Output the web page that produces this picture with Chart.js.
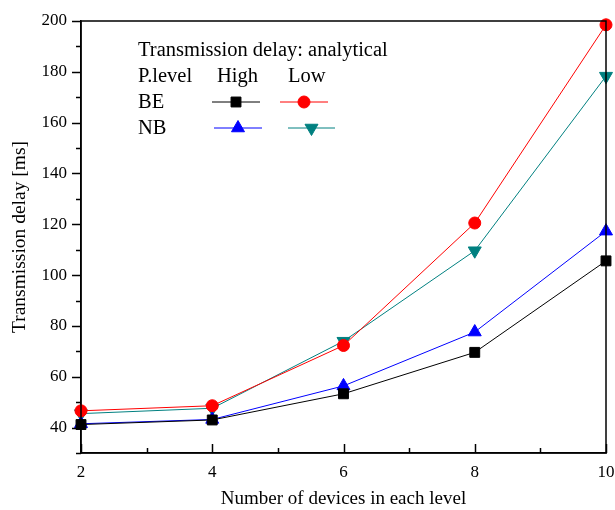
<!DOCTYPE html>
<html><head><meta charset="utf-8">
<script src="https://cdn.jsdelivr.net/npm/chart.js@4"></script>
<style>html,body{margin:0;padding:0;background:#fff}#wrap{width:615px;height:510px}</style>
</head><body><div id="wrap"><canvas id="c" width="615" height="510"></canvas></div>
<script>
const devices = [2, 4, 6, 8, 10];
const beHigh = [41.2, 43.0, 53.3, 69.6, 105.6];
const nbHigh = [41.5, 43.2, 56.4, 77.6, 117.3];
const beLow  = [46.6, 48.6, 72.3, 120.5, 198.5];
const nbLow  = [45.5, 47.6, 74.0, 109.6, 178.3];
const yTickLabels = [40, 60, 80, 100, 120, 140, 160, 180, 200];
const xTickLabels = [2, 4, 6, 8, 10];
const FONT = '"Liberation Serif", "Times New Roman", serif';

function pts(ys){ return devices.map((x,i)=>({x:x,y:ys[i]})); }

const styles = [
  {label:'BE High', data:beHigh, color:'#000000', ps:'rect', r:7, rot:0},
  {label:'BE Low',  data:beLow,  color:'#ff0000', ps:'circle', r:6, rot:0},
  {label:'NB High', data:nbHigh, color:'#0000ff', ps:'triangle', r:7.5, rot:0},
  {label:'NB Low',  data:nbLow,  color:'#008080', ps:'triangle', r:7.5, rot:180}
];

const datasets = styles.map(s=>({
  label:s.label, data:pts(s.data), borderColor:s.color, backgroundColor:s.color,
  borderWidth:1, pointStyle:s.ps, pointRadius:s.r, pointHoverRadius:s.r,
  pointRotation:s.rot, pointBorderWidth:1, tension:0, clip:false
}));

const framePlugin = {
  id:'frame',
  afterDraw(chart){
    const ctx = chart.ctx, a = chart.chartArea;
    const xs = chart.scales.x, ys = chart.scales.y;
    ctx.save();
    ctx.strokeStyle = '#000'; ctx.lineWidth = 1.5;
    ctx.strokeRect(a.left, a.top, a.right-a.left, a.bottom-a.top);
    // y ticks outward
    for(let v=30; v<=200; v+=10){
      const y = Math.round(ys.getPixelForValue(v))+0.5;
      const len = (v%20===0)?9:5;
      ctx.beginPath(); ctx.moveTo(a.left, y); ctx.lineTo(a.left-len, y); ctx.stroke();
    }
    // x ticks inward
    for(let v=2; v<=10; v+=1){
      const x = Math.round(xs.getPixelForValue(v))+0.5;
      const len = (v%2===0)?9:5;
      ctx.beginPath(); ctx.moveTo(x, a.bottom); ctx.lineTo(x, a.bottom-len); ctx.stroke();
    }
    // legend table
    ctx.fillStyle = '#000';
    ctx.font = '20.5px ' + FONT;
    ctx.textBaseline = 'middle';
    ctx.textAlign = 'left';
    ctx.fillText('Transmission delay: analytical', 138, 51);
    ctx.fillText('P.level', 138, 77);
    ctx.fillText('High', 217, 77);
    ctx.fillText('Low', 288, 77);
    ctx.fillText('BE', 138, 103);
    ctx.fillText('NB', 138, 129);
    const sample = (s, x1, x2, y) => {
      ctx.strokeStyle = s.color; ctx.lineWidth = 1;
      ctx.beginPath(); ctx.moveTo(x1, y); ctx.lineTo(x2, y); ctx.stroke();
      ctx.fillStyle = s.color; ctx.strokeStyle = s.color;
      Chart.helpers.drawPoint(ctx, {pointStyle:s.ps, radius:s.r, rotation:s.rot, borderWidth:1}, (x1+x2)/2, y);
    };
    sample(styles[0], 212, 260, 102);
    sample(styles[1], 280, 328, 102);
    sample(styles[2], 214, 262, 128);
    sample(styles[3], 288, 335, 128);
    ctx.restore();
  }
};

new Chart(document.getElementById('c'), {
  type:'line',
  data:{datasets:datasets},
  options:{
    responsive:false, animation:false, devicePixelRatio:1,
    layout:{padding:{top:21, right:9, left:0, bottom:0}},
    plugins:{legend:{display:false}, tooltip:{enabled:false}},
    scales:{
      x:{type:'linear', min:2, max:10,
        afterBuildTicks(s){ s.ticks = xTickLabels.map(v=>({value:v})); },
        grid:{display:false, drawTicks:false}, border:{display:true, color:'#000', width:1.5},
        ticks:{color:'#000', font:{family:FONT, size:17}, padding:9, maxRotation:0, autoSkip:false},
        title:{display:true, text:'Number of devices in each level', color:'#000', font:{family:FONT, size:19}, padding:{top:10,bottom:0}},
        afterFit(s){ s.height = 57; s.paddingLeft = 0; s.paddingRight = 0; }
      },
      y:{type:'linear', min:30, max:200,
        afterBuildTicks(s){ s.ticks = yTickLabels.map(v=>({value:v})); },
        grid:{display:false, drawTicks:false}, border:{display:true, color:'#000', width:1.5},
        ticks:{color:'#000', font:{family:FONT, size:17}, padding:14, autoSkip:false},
        title:{display:true, text:'Transmission delay [ms]', color:'#000', font:{family:FONT, size:19.5}, padding:{top:8,bottom:0}},
        afterFit(s){ s.width = 81; s.paddingTop = 0; s.paddingBottom = 0; }
      }
    }
  },
  plugins:[framePlugin]
});
</script></body></html>
